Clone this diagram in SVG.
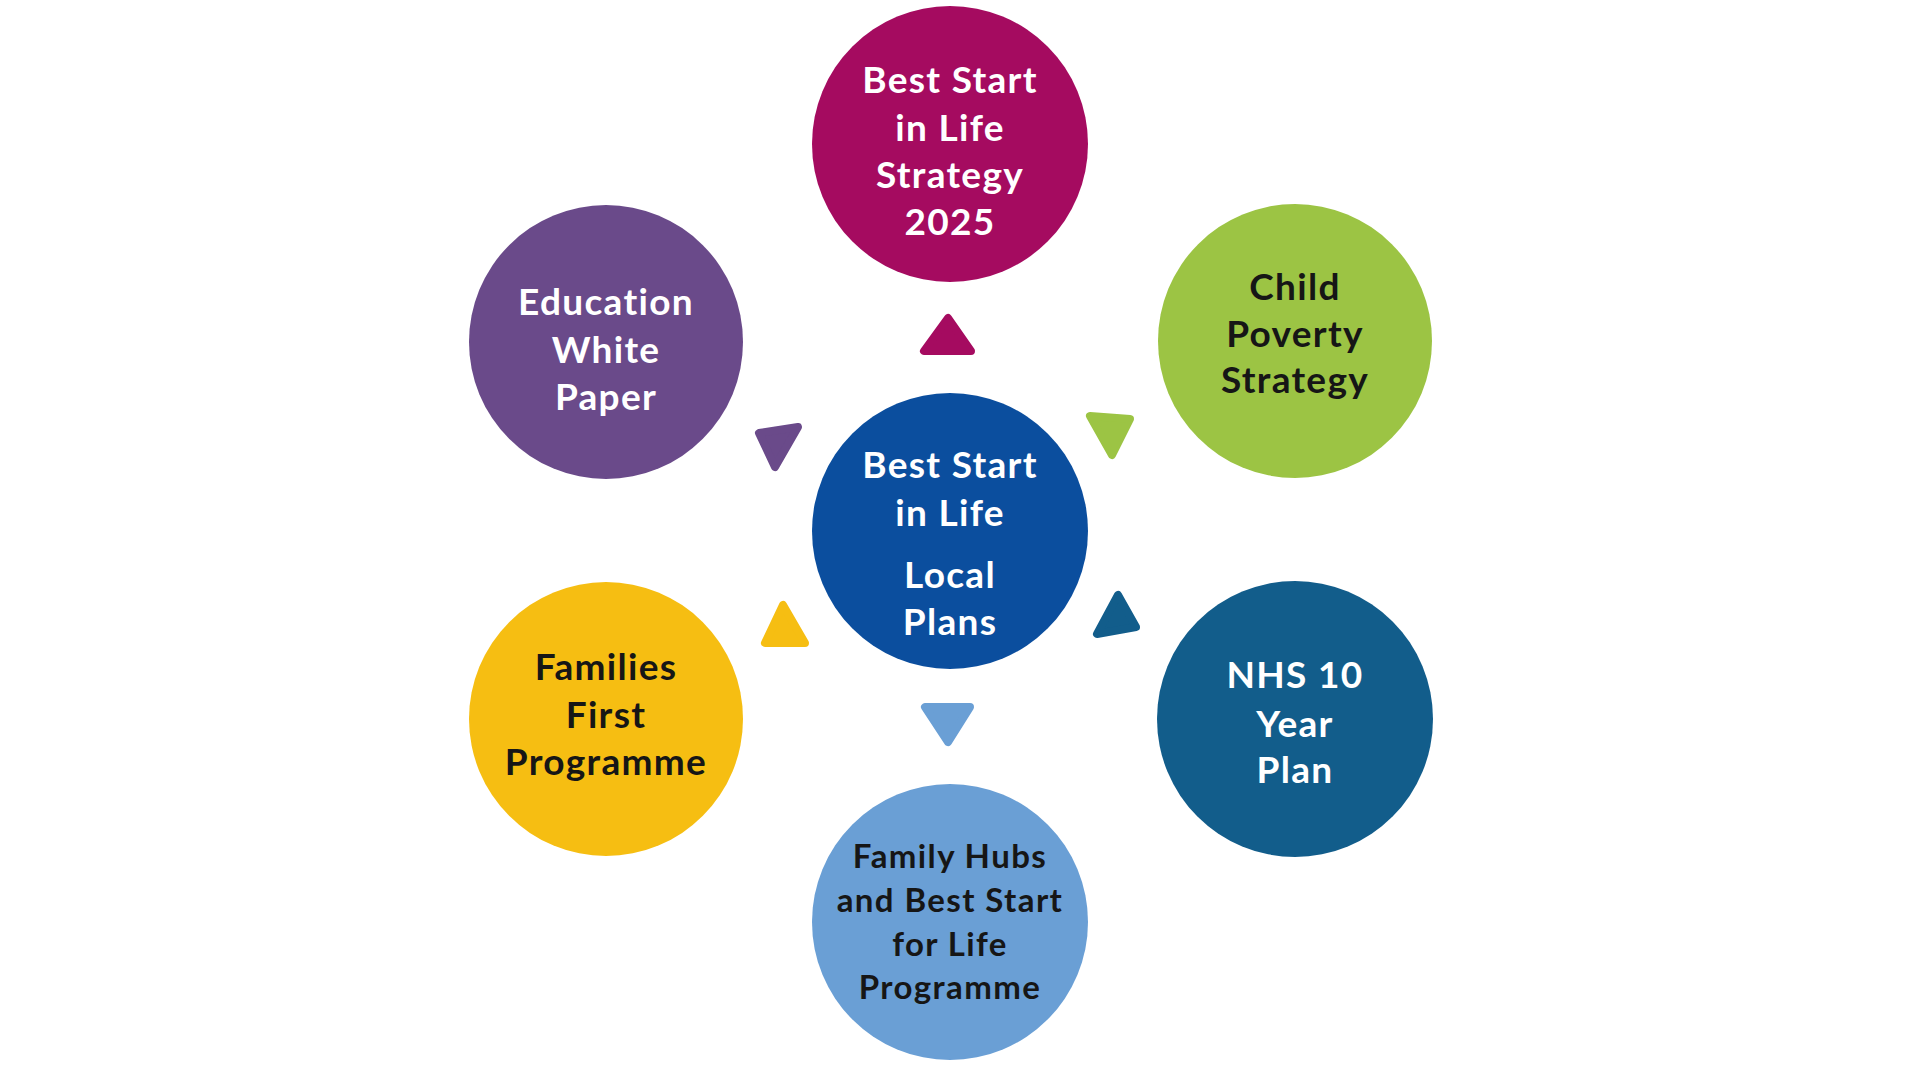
<svg xmlns="http://www.w3.org/2000/svg" width="1920" height="1080" viewBox="0 0 1920 1080">
<style>
.t{font-family:Lato,"Open Sans","Liberation Sans",sans-serif;font-weight:700;font-size:37px;letter-spacing:1.3px;text-anchor:middle}
.w{fill:#ffffff}
.d{fill:#161616}
.s{font-size:33px;letter-spacing:1.4px}
.tri{stroke-width:8;stroke-linejoin:round}
</style>
<rect width="1920" height="1080" fill="#ffffff"/>
<g id="connectors">
<polygon class="tri" points="948,318 924,351 971,351" fill="#A50B60" stroke="#A50B60"/>
<polygon class="tri" points="759,433 798,427 775,467" fill="#6A4A8A" stroke="#6A4A8A"/>
<polygon class="tri" points="1090,416 1130,419 1112,455" fill="#9CC444" stroke="#9CC444"/>
<polygon class="tri" points="783,605 765,643 805,643" fill="#F6BE12" stroke="#F6BE12"/>
<polygon class="tri" points="1118,595 1097,634 1136,627" fill="#125D8B" stroke="#125D8B"/>
<polygon class="tri" points="925,707 970,707 948,742" fill="#6A9FD5" stroke="#6A9FD5"/>
</g>
<g id="node-strategy">
<circle cx="950" cy="144" r="138" fill="#A50B60"/>
<text class="t w" x="950" y="93">Best Start</text>
<text class="t w" x="950" y="141">in Life</text>
<text class="t w" x="950" y="188">Strategy</text>
<text class="t w" x="950" y="235">2025</text>
</g>
<g id="node-education">
<circle cx="606" cy="342" r="137" fill="#6A4A8A"/>
<text class="t w" x="606" y="315">Education</text>
<text class="t w" x="606" y="363">White</text>
<text class="t w" x="606" y="410">Paper</text>
</g>
<g id="node-child-poverty">
<circle cx="1295" cy="341" r="137" fill="#9CC444"/>
<text class="t d" x="1295" y="300">Child</text>
<text class="t d" x="1295" y="347">Poverty</text>
<text class="t d" x="1295" y="393">Strategy</text>
</g>
<g id="node-local-plans">
<circle cx="950" cy="531" r="138" fill="#0B4E9E"/>
<text class="t w" x="950" y="478">Best Start</text>
<text class="t w" x="950" y="526">in Life</text>
<text class="t w" x="950" y="588">Local</text>
<text class="t w" x="950" y="635">Plans</text>
</g>
<g id="node-families-first">
<circle cx="606" cy="719" r="137" fill="#F6BE12"/>
<text class="t d" x="606" y="680">Families</text>
<text class="t d" x="606" y="728">First</text>
<text class="t d" x="606" y="775">Programme</text>
</g>
<g id="node-nhs">
<circle cx="1295" cy="719" r="138" fill="#125D8B"/>
<text class="t w" x="1295" y="688">NHS 10</text>
<text class="t w" x="1295" y="737">Year</text>
<text class="t w" x="1295" y="783">Plan</text>
</g>
<g id="node-family-hubs">
<circle cx="950" cy="922" r="138" fill="#6A9FD5"/>
<text class="t d s" x="950" y="868">Family Hubs</text>
<text class="t d s" x="950" y="912">and Best Start</text>
<text class="t d s" x="950" y="956">for Life</text>
<text class="t d s" x="950" y="999">Programme</text>
</g>
</svg>
